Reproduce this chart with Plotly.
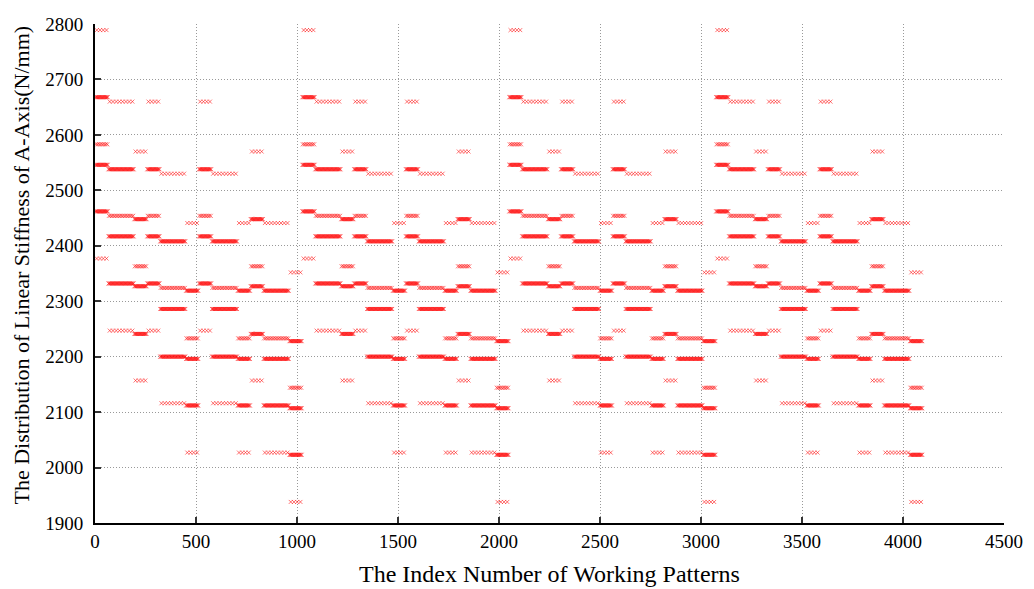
import plotly.graph_objects as go

# ---- data ----
# Each block of 1024 working patterns is made of 16 chunks of 64 patterns.
# Each chunk type holds six stiffness levels (N/mm).
LEVELS_A = [2789, 2668, 2583, 2546, 2462, 2377]
LEVELS_B = [2660, 2538, 2454, 2417, 2332, 2247]
LEVELS_C = [2570, 2448, 2363, 2327, 2241, 2157]
LEVELS_D = [2530, 2408, 2324, 2286, 2200, 2116]
LEVELS_E = [2441, 2319, 2233, 2196, 2112, 2027]
LEVELS_F = [2352, 2228, 2144, 2107, 2023, 1938]
# how many patterns in a chunk share each level (light rows have few points)
LEVEL_COUNTS = [4, 16, 8, 16, 16, 4]
CHUNK_ORDER = ["A", "B", "B", "C", "B", "D", "D", "E",
               "B", "D", "D", "E", "C", "E", "E", "F"]
BLOCK_STARTS = [0, 1024, 2048, 3072]
CHUNK_SIZE = 64

X_TICKS = [0, 500, 1000, 1500, 2000, 2500, 3000, 3500, 4000, 4500]
Y_TICKS = [1900, 2000, 2100, 2200, 2300, 2400, 2500, 2600, 2700, 2800]

types = {"A": LEVELS_A, "B": LEVELS_B, "C": LEVELS_C,
         "D": LEVELS_D, "E": LEVELS_E, "F": LEVELS_F}

xs, ys = [], []
for b in BLOCK_STARTS:
    for ci, t in enumerate(CHUNK_ORDER):
        start = b + ci * CHUNK_SIZE
        for lvl, n in zip(types[t], LEVEL_COUNTS):
            for k in range(n):
                xs.append(start + 1 + (k + 0.5) * CHUNK_SIZE / n)
                ys.append(lvl)

fig = go.Figure()
fig.add_trace(go.Scatter(
    x=xs, y=ys, mode="markers",
    marker=dict(symbol="x-thin", size=4, color="rgba(0,0,0,0)",
                line=dict(color="rgba(255,0,0,0.55)", width=1)),
    showlegend=False, hoverinfo="skip",
))

font = "Liberation Serif, Times New Roman, serif"
# page body has an 8px margin, so the figure is sized/shifted to compensate
W, H = 1026, 581
L, R, T, B = 87, 30, 16, 66
fig.update_layout(
    width=W, height=H,
    margin=dict(l=L, r=R, t=T, b=B, autoexpand=False),
    paper_bgcolor="white", plot_bgcolor="white",
    font=dict(family=font, size=19, color="black"),
    annotations=[
        dict(text="The Index Number of Working Patterns",
             xref="paper", yref="paper", x=0.5, y=0,
             xanchor="center", yanchor="middle", yshift=-51,
             showarrow=False, font=dict(family=font, size=24, color="black")),
        dict(text="The Distribution of Linear Stiffness of A-Axis(N/mm)",
             xref="paper", yref="paper", x=0, y=0.5, textangle=-90,
             xanchor="center", yanchor="middle", xshift=-74, yshift=8,
             showarrow=False, font=dict(family=font, size=22, color="black")),
    ],
)
fig.update_xaxes(
    range=[0, 4500], tickvals=X_TICKS, ticktext=[str(v) for v in X_TICKS],
    showline=True, linecolor="black", linewidth=2,
    ticks="inside", ticklen=6, tickcolor="#333333", tickwidth=1.5,
    showgrid=True, gridcolor="#999999", griddash="1px,2px", gridwidth=1,
    zeroline=False, automargin=False,
    tickfont=dict(family=font, size=19),
)
fig.update_yaxes(
    range=[1900, 2800], tickvals=Y_TICKS, ticktext=[str(v) for v in Y_TICKS],
    showline=True, linecolor="black", linewidth=2,
    ticks="inside", ticklen=6, tickcolor="#333333", tickwidth=1.5,
    showgrid=True, gridcolor="#999999", griddash="1px,2px", gridwidth=1,
    zeroline=False, automargin=False, ticklabelstandoff=6,
    tickfont=dict(family=font, size=19),
)

fig.write_html("out.html")
